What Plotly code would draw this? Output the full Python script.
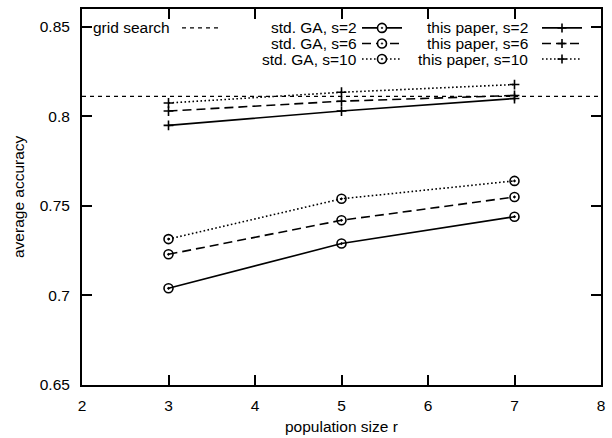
import plotly.graph_objects as go

# ---- data ----
population_size = [3, 5, 7]
std_ga_s2 = [0.704, 0.729, 0.744]
std_ga_s6 = [0.723, 0.742, 0.755]
std_ga_s10 = [0.7315, 0.754, 0.764]
paper_s2 = [0.795, 0.803, 0.810]
paper_s6 = [0.803, 0.8085, 0.8117]
paper_s10 = [0.8075, 0.8135, 0.8178]
grid_search = 0.8112

x_ticks = [2, 3, 4, 5, 6, 7, 8]
y_ticks = [0.65, 0.7, 0.75, 0.8, 0.85]
y_tick_labels = ["0.65", "0.7", "0.75", "0.8", "0.85"]

FONT = "Liberation Sans, Arial, sans-serif"
FS = 15.5
W, H = 612, 438
L, R, T, B = 82, 601, 7, 385


def px(xp):
    return (xp - L) / (R - L)


def py(yp):
    return (B - yp) / (B - T)


DASH_S2 = "solid"
DASH_S6 = "9px,5px"
DASH_S10 = "1.6px,2.4px"
DASH_GRID = "4px,4px"

fig = go.Figure()

series = [
    ("std. GA, s=2", std_ga_s2, DASH_S2, "circle"),
    ("std. GA, s=6", std_ga_s6, DASH_S6, "circle"),
    ("std. GA, s=10", std_ga_s10, DASH_S10, "circle"),
    ("this paper, s=2", paper_s2, DASH_S2, "plus"),
    ("this paper, s=6", paper_s6, DASH_S6, "plus"),
    ("this paper, s=10", paper_s10, DASH_S10, "plus"),
]

for name, ys, dash, mk in series:
    if mk == "circle":
        marker = dict(symbol="circle-open-dot", size=9, color="black",
                      line=dict(width=1.6, color="black"))
    else:
        marker = dict(symbol="cross-thin-open", size=7, color="black",
                      line=dict(width=1.6, color="black"))
    fig.add_trace(go.Scatter(
        x=population_size, y=ys, mode="lines+markers", name=name,
        line=dict(color="black", width=1.6, dash=dash),
        marker=marker, showlegend=False, cliponaxis=False,
    ))

shapes = []
# grid search horizontal line across the whole plot
shapes.append(dict(type="line", xref="paper", yref="y", x0=0, x1=1,
                   y0=grid_search, y1=grid_search,
                   line=dict(color="black", width=1.2, dash=DASH_GRID)))

annotations = []
# ---- custom gnuplot-style key ----
rows = [26, 41.7, 57.3]
key_cols = [
    # (text right edge, sample start, sample end)
    (171, 182, 222),
    (358, 362, 402),
    (529, 542, 582),
]
key_entries = [
    (0, 0, "grid search", DASH_GRID, None),
    (1, 0, "std. GA, s=2", DASH_S2, "circle"),
    (1, 1, "std. GA, s=6", DASH_S6, "circle"),
    (1, 2, "std. GA, s=10", DASH_S10, "circle"),
    (2, 0, "this paper, s=2", DASH_S2, "plus"),
    (2, 1, "this paper, s=6", DASH_S6, "plus"),
    (2, 2, "this paper, s=10", DASH_S10, "plus"),
]
for col, row, text, dash, mk in key_entries:
    tx, s0, s1 = key_cols[col]
    yy = rows[row]
    annotations.append(dict(xref="paper", yref="paper", x=px(tx + 1), y=py(yy),
                            xanchor="right", yanchor="middle", text=text,
                            showarrow=False,
                            font=dict(family=FONT, size=FS, color="black")))
    lw = 1.2 if mk is None else 1.6
    shapes.append(dict(type="line", xref="paper", yref="paper",
                       x0=px(s0), x1=px(s1), y0=py(yy), y1=py(yy),
                       line=dict(color="black", width=lw, dash=dash)))
    mx = px((s0 + s1) / 2)
    if mk == "circle":
        shapes.append(dict(type="circle", xref="paper", yref="paper",
                           xsizemode="pixel", ysizemode="pixel",
                           xanchor=mx, yanchor=py(yy),
                           x0=-4.5, x1=4.5, y0=-4.5, y1=4.5,
                           fillcolor="white",
                           line=dict(color="black", width=1.6)))
        shapes.append(dict(type="circle", xref="paper", yref="paper",
                           xsizemode="pixel", ysizemode="pixel",
                           xanchor=mx, yanchor=py(yy),
                           x0=-0.8, x1=0.8, y0=-0.8, y1=0.8,
                           fillcolor="black",
                           line=dict(color="black", width=0.5)))
    elif mk == "plus":
        shapes.append(dict(type="line", xref="paper", yref="paper",
                           xsizemode="pixel", ysizemode="pixel",
                           xanchor=mx, yanchor=py(yy),
                           x0=-4.5, x1=4.5, y0=0, y1=0,
                           line=dict(color="black", width=1.6)))
        shapes.append(dict(type="line", xref="paper", yref="paper",
                           xsizemode="pixel", ysizemode="pixel",
                           xanchor=mx, yanchor=py(yy),
                           x0=0, x1=0, y0=-4.5, y1=4.5,
                           line=dict(color="black", width=1.6)))

# axis titles
annotations.append(dict(xref="paper", yref="paper", x=0.5, y=py(427),
                        xanchor="center", yanchor="middle",
                        text="population size r", showarrow=False,
                        font=dict(family=FONT, size=FS, color="black")))
annotations.append(dict(xref="paper", yref="paper", x=px(18), y=0.5,
                        xanchor="center", yanchor="middle", textangle=-90,
                        text="average accuracy", showarrow=False,
                        font=dict(family=FONT, size=FS, color="black")))

axis_common = dict(
    showline=True, linecolor="black", linewidth=2, mirror="ticks",
    ticks="inside", ticklen=10, tickwidth=1.5, tickcolor="black",
    showgrid=False, zeroline=False,
    tickfont=dict(family=FONT, size=FS, color="black"),
)

fig.update_layout(
    width=W, height=H,
    margin=dict(l=L, r=W - R, t=T, b=H - B, pad=0),
    paper_bgcolor="white", plot_bgcolor="white",
    xaxis=dict(range=[2, 8], tickvals=x_ticks, ticklabelstandoff=5,
               **axis_common),
    yaxis=dict(range=[0.65, 0.86], tickvals=y_ticks, ticktext=y_tick_labels,
               ticklabelstandoff=7, **axis_common),
    shapes=shapes,
    annotations=annotations,
    showlegend=False,
)

fig.write_html("out.html")
